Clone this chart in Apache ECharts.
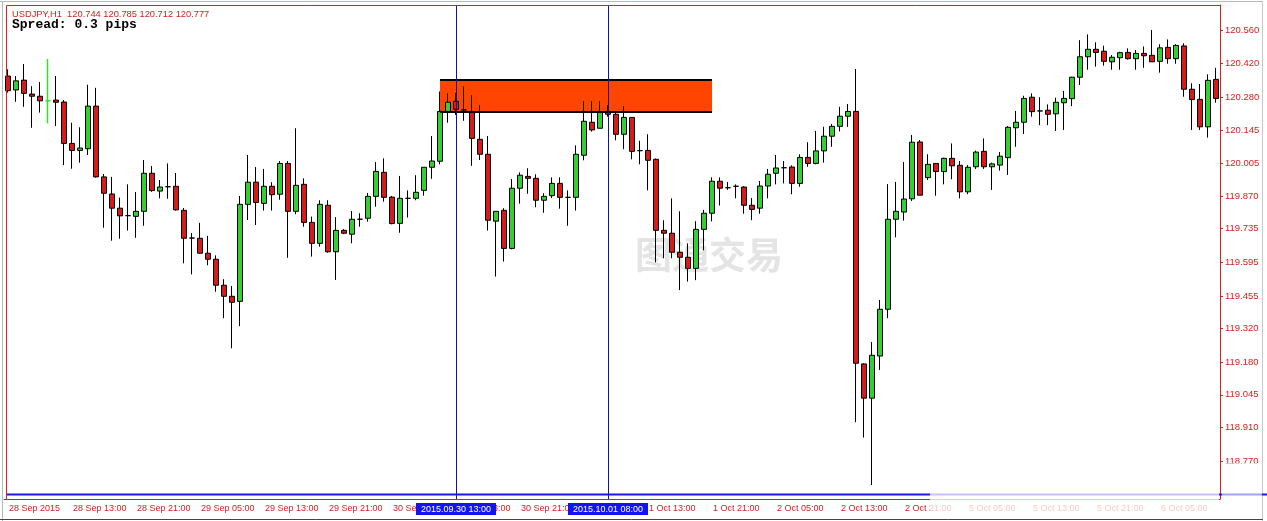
<!DOCTYPE html>
<html><head><meta charset="utf-8">
<script src="https://cdn.jsdelivr.net/npm/echarts@6/dist/echarts.min.js"></script>
<style>html,body{margin:0;padding:0;background:#fff}#c{width:1267px;height:521px}</style>
</head><body><div id="c"></div>
<script>
// ---- data (USDJPY H1, bars from 2015.09.28 05:00) ----
const openP = [120.369,120.311,120.352,120.294,120.285,120.266,120.269,120.261,120.089,120.060,
120.067,120.244,119.950,119.879,119.820,119.789,119.786,119.807,119.965,119.891,
119.909,119.911,119.811,119.696,119.695,119.633,119.608,119.500,119.454,119.433,
119.836,119.928,119.840,119.911,119.878,120.006,119.807,119.919,119.761,119.674,
119.832,119.639,119.728,119.712,119.774,119.778,119.869,119.969,119.866,119.757,
119.861,119.861,119.894,119.990,120.015,120.222,120.264,120.228,120.222,120.106,
120.044,119.766,119.811,119.653,119.903,119.952,119.944,119.853,119.872,119.923,
119.865,119.865,120.040,120.177,120.152,120.222,120.210,120.127,120.197,120.059,
120.060,120.023,119.728,119.716,119.637,119.616,119.570,119.732,119.799,119.932,
119.905,119.911,119.908,119.832,119.820,119.912,119.965,119.988,119.991,119.923,
120.031,120.006,120.058,120.119,120.160,120.202,120.222,119.173,119.031,119.206,
119.400,119.774,119.804,119.859,120.095,119.947,120.006,119.972,120.027,119.998,
119.888,119.992,120.056,119.992,119.999,120.030,120.154,120.177,120.281,120.224,
120.227,120.212,120.258,120.275,120.364,120.449,120.480,120.472,120.428,120.445,
120.467,120.441,120.463,120.455,120.430,120.488,120.441,120.494,120.314,120.272,
120.158,120.355];
const highP = [120.397,120.369,120.419,120.327,120.344,120.440,120.369,120.269,120.175,120.156,
120.333,120.320,119.962,119.950,119.864,119.919,119.887,120.020,119.995,119.937,
120.006,119.966,119.821,119.717,119.759,119.705,119.624,119.525,119.497,119.871,
120.041,119.991,119.983,119.928,120.016,120.016,120.152,119.944,119.785,119.853,
119.853,119.783,119.733,119.808,119.799,119.883,120.012,120.027,119.871,119.954,
119.894,119.957,119.990,120.120,120.305,120.297,120.298,120.326,120.289,120.247,
120.120,119.807,119.820,119.941,119.969,119.986,119.961,119.882,119.948,119.948,
119.894,120.081,120.264,120.264,120.264,120.247,120.215,120.243,120.197,120.100,
120.127,120.027,119.770,119.861,119.807,119.674,119.766,119.813,119.948,119.948,
119.929,119.919,119.911,119.862,119.933,119.983,120.041,120.016,119.998,120.044,
120.094,120.141,120.158,120.170,120.241,120.253,120.398,119.176,119.264,119.439,
119.920,119.929,120.012,120.124,120.103,120.044,120.006,120.030,120.089,120.016,
119.999,120.059,120.110,120.009,120.053,120.161,120.224,120.287,120.297,120.281,
120.251,120.279,120.307,120.366,120.518,120.542,120.509,120.495,120.456,120.470,
120.484,120.477,120.492,120.560,120.501,120.521,120.501,120.505,120.339,120.336,
120.376,120.403];
const lowP = [120.300,120.262,120.241,120.154,120.217,120.173,120.161,119.999,119.984,120.009,
120.041,119.947,119.739,119.685,119.693,119.727,119.697,119.747,119.888,119.861,
119.859,119.810,119.591,119.545,119.631,119.583,119.473,119.363,119.238,119.330,
119.771,119.750,119.810,119.810,119.855,119.614,119.795,119.743,119.619,119.660,
119.635,119.522,119.712,119.674,119.743,119.764,119.826,119.847,119.753,119.718,
119.781,119.853,119.872,119.942,120.002,120.175,120.207,120.183,119.996,120.020,
119.727,119.536,119.598,119.649,119.839,119.880,119.824,119.801,119.862,119.818,
119.747,119.810,120.019,120.138,120.152,120.200,120.102,120.065,120.023,120.002,
119.894,119.595,119.612,119.612,119.480,119.515,119.521,119.645,119.765,119.831,
119.896,119.861,119.797,119.770,119.797,119.861,119.919,119.923,119.878,119.909,
119.992,120.002,120.009,120.075,120.139,120.158,118.931,118.867,118.670,119.148,
119.363,119.699,119.768,119.850,119.874,119.937,119.872,119.919,119.940,119.861,
119.878,119.983,119.983,119.896,119.976,119.958,120.075,120.128,120.200,120.165,
120.165,120.141,120.145,120.244,120.332,120.395,120.408,120.412,120.395,120.395,
120.437,120.395,120.403,120.428,120.383,120.420,120.420,120.283,120.145,120.145,
120.113,120.258];
const closeP = [120.308,120.349,120.297,120.285,120.266,120.266,120.260,120.089,120.060,120.070,
120.244,119.950,119.882,119.820,119.788,119.789,119.807,119.965,119.893,119.908,
119.909,119.813,119.695,119.696,119.633,119.608,119.500,119.454,119.429,119.836,
119.928,119.844,119.911,119.876,120.006,119.807,119.915,119.761,119.674,119.836,
119.639,119.728,119.716,119.774,119.774,119.869,119.973,119.865,119.756,119.861,
119.861,119.886,119.990,120.016,120.222,120.260,120.231,120.228,120.110,120.044,
119.770,119.807,119.653,119.903,119.957,119.944,119.853,119.869,119.923,119.865,
119.865,120.044,120.181,120.145,120.218,120.210,120.127,120.197,120.056,120.059,
120.019,119.728,119.716,119.637,119.616,119.570,119.732,119.799,119.932,119.903,
119.905,119.911,119.832,119.815,119.912,119.961,119.987,119.988,119.923,120.031,
120.006,120.058,120.119,120.160,120.202,120.222,119.176,119.031,119.209,119.400,
119.774,119.807,119.858,120.094,119.874,120.002,119.972,120.027,119.996,119.888,
119.990,120.053,119.992,120.004,120.036,120.156,120.177,120.276,120.221,120.224,
120.210,120.260,120.276,120.364,120.449,120.480,120.467,120.430,120.447,120.466,
120.441,120.463,120.453,120.428,120.486,120.441,120.496,120.314,120.271,120.158,
120.351,120.276];
const xTickLabels = ['28 Sep 2015','28 Sep 13:00','28 Sep 21:00','29 Sep 05:00','29 Sep 13:00','29 Sep 21:00',
'30 Sep 05:00','30 Sep 13:00','30 Sep 21:00','1 Oct 05:00','1 Oct 13:00','1 Oct 21:00','2 Oct 05:00',
'2 Oct 13:00','2 Oct 21:00','5 Oct 05:00','5 Oct 13:00','5 Oct 21:00','6 Oct 05:00'];
const yTickValues = [120.560,120.420,120.280,120.145,120.005,119.870,119.735,119.595,119.455,119.320,119.180,119.045,118.910,118.770];
const zoneTop = 120.352, zoneBottom = 120.221;
const zoneStart = '2015.09.30 11:00', zoneEnd = '2015.10.01 21:00';
const vLines = ['2015.09.30 13:00', '2015.10.01 08:00'];
const headerText = 'USDJPY,H1  120.744 120.785 120.712 120.777';
const spreadText = 'Spread: 0.3 pips';
const watermark = '图通交易';

// ---- categories (hourly bars, weekend skipped) ----
function pad(n){return n<10?'0'+n:''+n;}
const categories=[];
const t0=Date.UTC(2015,8,28,5), weekendStart=Date.UTC(2015,9,3,0);
for(let i=0;i<openP.length;i++){
  let t=t0+i*3600e3; if(t>=weekendStart) t+=48*3600e3;
  const d=new Date(t);
  categories.push(d.getUTCFullYear()+'.'+pad(d.getUTCMonth()+1)+'.'+pad(d.getUTCDate())+' '+pad(d.getUTCHours())+':00');
}
const UP='#33d033', DOWN='#d41c1c', AX='#d42020';
const seriesData = categories.map((c,i)=>{
  const v=[openP[i],closeP[i],lowP[i],highP[i]];
  if(i===5) return {value:v,itemStyle:{borderColor:'#2fe02f',borderColor0:'#2fe02f',borderColorDoji:'#2fe02f',borderWidth:1.5}};
  return v;
});

const chart = echarts.init(document.getElementById('c'), null, {renderer:'canvas'});
chart.setOption({
  animation:false,
  backgroundColor:'#ffffff',
  grid:{left:4,right:47,top:5,bottom:22,show:false},
  xAxis:{type:'category',data:categories,boundaryGap:true,
    axisLine:{lineStyle:{color:AX,width:1}},
    axisTick:{alignWithLabel:true,interval:7,length:3,lineStyle:{color:AX}},
    axisLabel:{interval:7,align:'left',margin:5,fontSize:9,fontFamily:'Liberation Sans',color:AX,
      padding:[0,0,0,1],formatter:(v,idx)=>xTickLabels[idx/8]||''},
    splitLine:{show:false}},
  yAxis:{type:'value',position:'right',min:118.612,max:120.664,
    axisLine:{show:true,lineStyle:{color:AX,width:1}},
    axisTick:{show:true,length:3,lineStyle:{color:AX},customValues:yTickValues},
    axisLabel:{color:AX,fontSize:9.5,fontFamily:'Liberation Sans',margin:5,customValues:yTickValues,formatter:v=>v.toFixed(3)},
    splitLine:{show:false}},
  series:[{
    type:'candlestick',data:seriesData,barWidth:5,
    itemStyle:{color:UP,color0:DOWN,borderColor:'#000',borderColor0:'#000',borderColorDoji:'#000',borderWidth:1},
    markArea:{silent:true,itemStyle:{color:'#ff4500',opacity:1},
      data:[[{coord:[zoneStart,zoneTop]},{coord:[zoneEnd,zoneBottom]}]]},
    markLine:{silent:true,symbol:['none','none'],animation:false,
      data:[
        [{coord:[zoneStart,zoneTop],lineStyle:{color:'#000',width:2,type:'solid'},label:{show:false}},{coord:[zoneEnd,zoneTop]}],
        [{coord:[zoneStart,zoneBottom],lineStyle:{color:'#000',width:2,type:'solid'},label:{show:false}},{coord:[zoneEnd,zoneBottom]}],
        ...vLines.map(v=>({xAxis:v,name:v,lineStyle:{color:'#12129a',width:1,type:'solid'},
          label:{show:true,position:'start',formatter:p=>p.name,color:'#fff',backgroundColor:'#1414ee',
            fontSize:9,fontFamily:'Liberation Sans',padding:[2,5,1,5],distance:4}}))
      ]}
  }],
  graphic:[
    {type:'text',z:0,zlevel:0,x:635,y:236,silent:true,
      style:{text:watermark,font:'bold 37px "Noto Sans CJK SC"',fill:'#e4e4e4'}},
    {type:'line',z:100,silent:true,shape:{x1:0,y1:1.5,x2:1263,y2:1.5},style:{stroke:'#b8b8b8',lineWidth:1}},
    {type:'line',z:100,silent:true,shape:{x1:2.5,y1:1,x2:2.5,y2:521},style:{stroke:'#b8b8b8',lineWidth:1}},
    {type:'line',z:100,silent:true,shape:{x1:1262.5,y1:1,x2:1262.5,y2:521},style:{stroke:'#c8c8c8',lineWidth:1}},
    {type:'line',z:100,silent:true,shape:{x1:6.5,y1:5.5,x2:1220,y2:5.5},style:{stroke:AX,lineWidth:1}},
    {type:'line',z:100,silent:true,shape:{x1:6.5,y1:5.5,x2:6.5,y2:499},style:{stroke:AX,lineWidth:1}},
    {type:'line',z:100,silent:true,shape:{x1:7,y1:494.5,x2:1267,y2:494.5},style:{stroke:'#1818e8',lineWidth:2}},
    {type:'line',z:100,silent:true,shape:{x1:0,y1:519.5,x2:1263,y2:519.5},style:{stroke:'#444',lineWidth:1}},
    {type:'text',z:100,x:12,y:14,silent:true,style:{text:headerText,font:'9.3px "Liberation Sans"',fill:AX,verticalAlign:'middle'}},
    {type:'text',z:100,x:12,y:25,silent:true,style:{text:spreadText,font:'bold 13px "Liberation Mono"',fill:'#000',verticalAlign:'middle'}},
    {type:'rect',z:200,silent:true,shape:{x:930,y:492,width:289,height:27},style:{fill:'rgba(255,255,255,0.75)'}},
    {type:'rect',z:200,silent:true,shape:{x:1222,y:463,width:40,height:56},style:{fill:'rgba(255,255,255,0.6)'}}
  ]
});
</script></body></html>
